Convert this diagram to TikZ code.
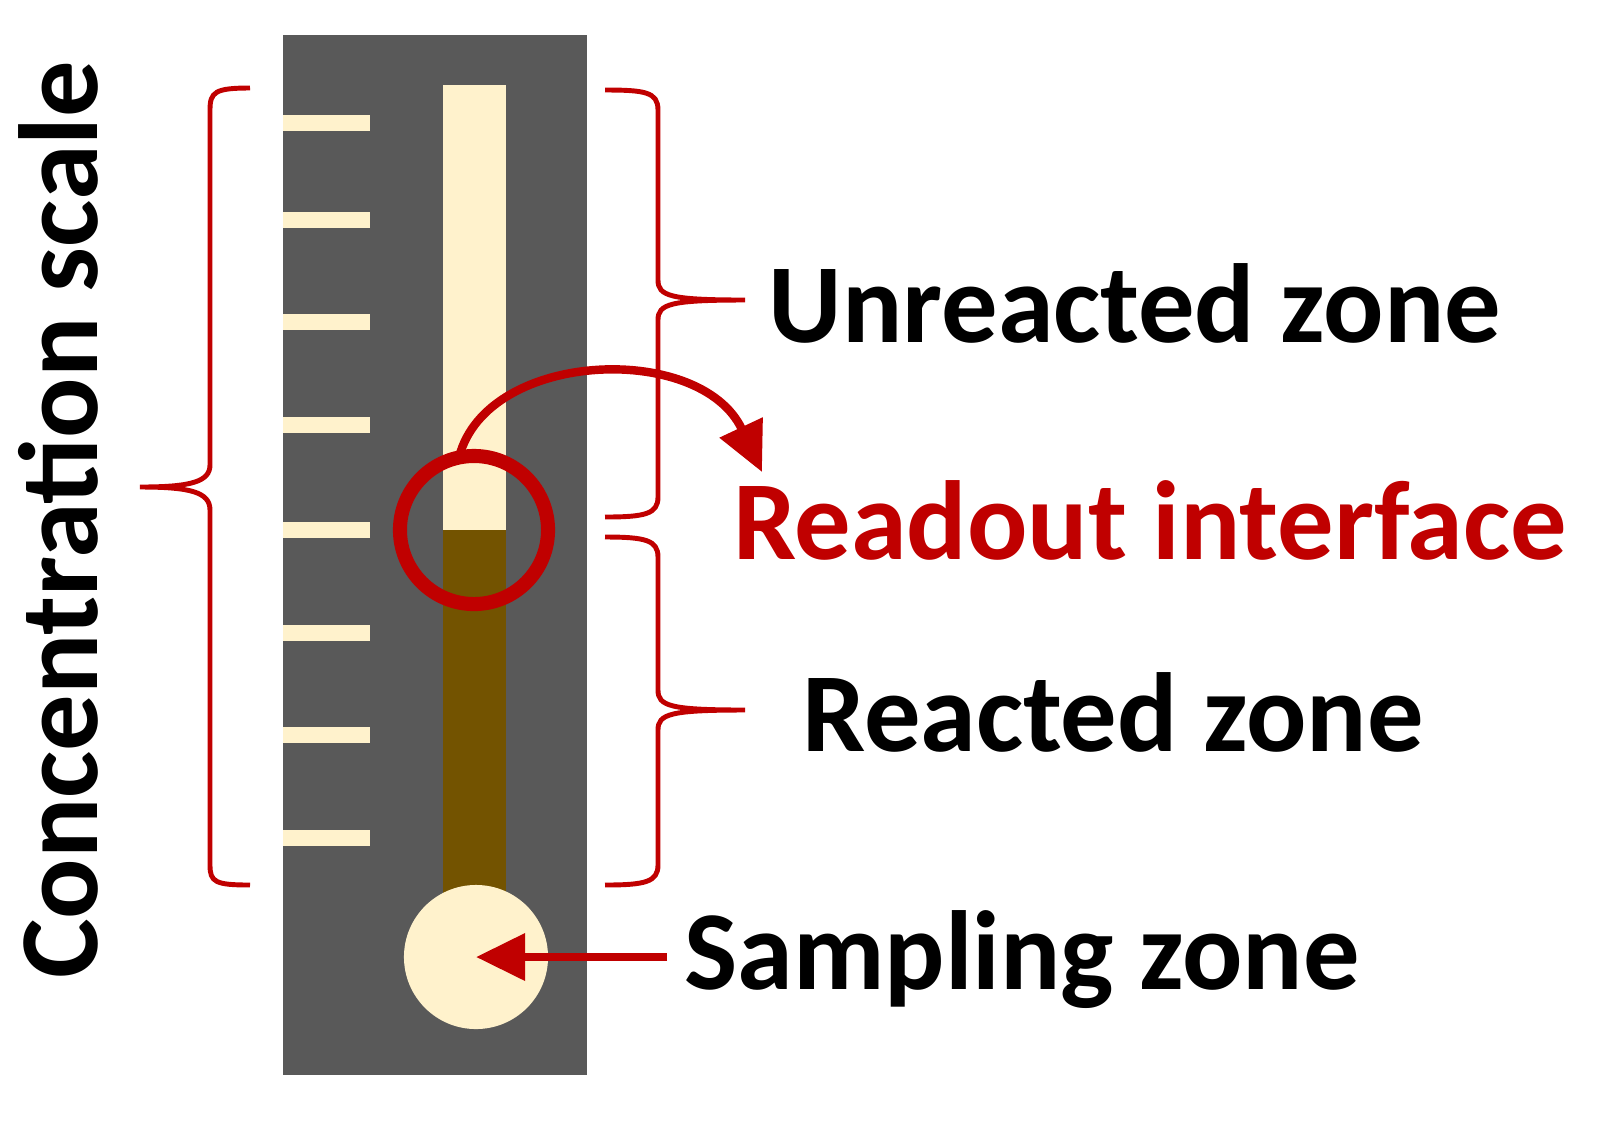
\documentclass[tikz,border=0pt]{standalone}
\usepackage{fontspec}
\setmainfont{Carlito}
\usetikzlibrary{arrows.meta}
\definecolor{dkgray}{HTML}{595959}
\definecolor{cream}{HTML}{FFF2CC}
\definecolor{brn}{HTML}{735300}
\definecolor{rd}{HTML}{C00000}
\tikzset{x=0.01cm,y=-0.01cm,
 brace/.style={draw=rd,line width=1.4pt},
 lbl/.style={font=\bfseries\fontsize{32}{36}\selectfont,inner sep=0},
 redarrow/.style={draw=rd,line width=2.4pt,-{Triangle[length=14pt,width=13pt]}}}
\begin{document}
\begin{tikzpicture}
\useasboundingbox (0,0) rectangle (1605,1129);
\fill[dkgray] (283,35) rectangle (587,1075);
\foreach \y in {123,220,322,425,530,633,735,838}
  \fill[cream] (283,\y-8) rectangle (370,\y+8);
\fill[cream] (443,85) rectangle (506,530);
\fill[brn] (443,530) rectangle (506,895);
\node[circle,fill=cream,minimum size=1.44cm,inner sep=0] (samp) at (476,957) {};
\node[circle,draw=rd,line width=4pt,minimum size=1.48cm,inner sep=0] (ring) at (474,530) {};
% left brace
\draw[brace] (250,88) .. controls (215,88) and (210,92) .. (210,110) -- (210,465) .. controls (210,482) and (190,487) .. (140,487)
  .. controls (190,487) and (210,492) .. (210,510) -- (210,865) .. controls (210,882) and (215,885) .. (250,885);
% right braces
\draw[brace] (605,90) .. controls (645,90) and (658,92) .. (658,110) -- (658,280) .. controls (658,296) and (670,300) .. (745,300)
  .. controls (670,300) and (658,304) .. (658,320) -- (658,497) .. controls (658,514) and (645,517) .. (605,517);
\draw[brace] (605,537) .. controls (645,537) and (658,540) .. (658,557) -- (658,690) .. controls (658,706) and (670,710) .. (745,710)
  .. controls (670,710) and (658,714) .. (658,730) -- (658,865) .. controls (658,882) and (645,885) .. (605,885);
\node[lbl,rotate=90] (conc) at (58,520) {Concentration scale};
\node[lbl] (unr) at (1135,303) {Unreacted zone};
\node[lbl,text=rd] (rdo) at (1150,520) {Readout interface};
\node[lbl] (rea) at (1113,712) {Reacted zone};
\node[lbl] (smp) at (1022,960) {Sampling zone};
\coordinate (a0) at (458,462);
\coordinate (a1) at (762,472);
\draw[redarrow] (a0) .. controls (480,350) and (700,340) .. (a1);
\coordinate (b0) at (667,957);
\draw[redarrow] (b0) -- (samp.center);
\end{tikzpicture}
\end{document}
